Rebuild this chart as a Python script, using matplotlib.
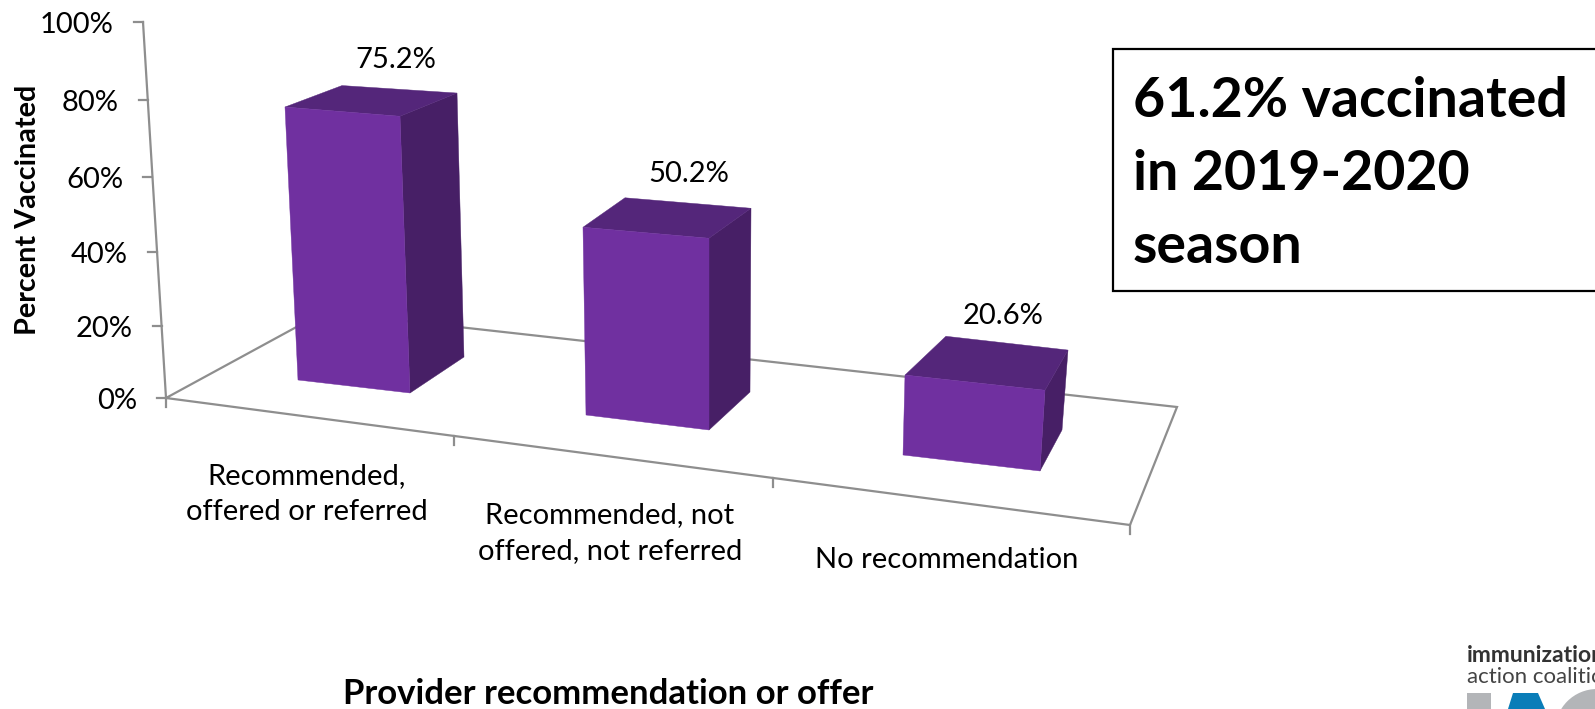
import numpy as np
import matplotlib
matplotlib.use('Agg')
import matplotlib.pyplot as plt
from matplotlib.patches import Polygon, Rectangle, Circle

# chart data
categories = ['Recommended,\noffered or referred', 'Recommended, not\noffered, not referred', 'No recommendation']
values = [75.2, 50.2, 20.6]
value_labels = ['75.2%', '50.2%', '20.6%']
y_ticks = [0, 20, 40, 60, 80, 100]
y_tick_labels = ['0%', '20%', '40%', '60%', '80%', '100%']

FRONT = '#7030A0'
TOP = '#54267A'
SIDE = '#471F66'
GREY = '#8E8E8E'
FONT = 'Lato'
LABEL_SIZE = 21
LINE = 1.6

W, H = 1595, 709

# floor of each bar in pixels: front-left, front-right, back-right, back-left
bar_floors = [
    [(298, 380), (410, 393), (464, 357), (352, 345)],
    [(586, 415), (709, 430), (750, 392), (630, 378)],
    [(903, 455), (1040, 471), (1062, 430), (942, 416)],
]
# pixels per percent at the same corners (x, y), the chart is in perspective
bar_rates = [
    [(0.173, 3.63), (0.133, 3.68), (0.093, 3.51), (0.133, 3.45)],
    [(0.060, 3.74), (0.000, 3.82), (-0.020, 3.66), (0.100, 3.59)],
    [(-0.097, 3.88), (-0.243, 3.92), (-0.291, 3.88), (-0.190, 3.87)],
]
label_nudge = [(-4, -29), (1, -29), (-4, -27)]

origin = np.array([166, 398])
axis_top = np.array([143, 22])
floor_right = np.array([1130, 525])
floor_back_right = np.array([1177, 407])
floor_back_left = np.array([324, 312])


def persp(t, e):
    # position along an edge that recedes from the viewer
    return t / (1 + e * (1 - t))


def along(a, b, t, e=0.0):
    return a + (b - a) * persp(t, e)


fig = plt.figure(figsize=(W / 100, H / 100), dpi=100)
ax = fig.add_axes([0, 0, 1, 1])
ax.set_xlim(0, W)
ax.set_ylim(H, 0)
ax.axis('off')

# floor
floor = np.array([floor_back_left, origin, floor_right, floor_back_right])
ax.add_patch(Polygon(floor, closed=True, fill=False, ec=GREY, lw=LINE, zorder=1))

# value axis
ax.plot(*zip(origin, axis_top), color=GREY, lw=LINE, zorder=1)
for v, lab in zip(y_ticks, y_tick_labels):
    p = along(origin, axis_top, v / 100, 0.05)
    ax.plot([p[0] - 9, p[0]], [p[1], p[1]], color=GREY, lw=LINE, zorder=1)
    ax.text(p[0] - 29, p[1] + 3, lab, ha='right', va='center', fontsize=LABEL_SIZE,
            family=FONT, color='black')

# category ticks
for i in range(len(categories) + 1):
    p = along(origin, floor_right, i / len(categories), 0.174)
    ax.plot([p[0], p[0]], [p[1], p[1] + 9], color=GREY, lw=LINE, zorder=1)

# bars
for i, v in enumerate(values):
    base = np.array(bar_floors[i], dtype=float)
    top = base - np.array(bar_rates[i]) * v
    ax.add_patch(Polygon([top[1], top[2], base[2], base[1]], fc=SIDE, ec=SIDE, lw=0.3, zorder=3))
    ax.add_patch(Polygon(top, fc=TOP, ec=TOP, lw=0.3, zorder=3))
    ax.add_patch(Polygon([top[0], top[1], base[1], base[0]], fc=FRONT, ec=FRONT, lw=0.3, zorder=4))
    mid = (top[2] + top[3]) / 2
    ax.text(mid[0] + label_nudge[i][0], mid[1] + label_nudge[i][1], value_labels[i], ha='center',
            va='center', fontsize=LABEL_SIZE, family=FONT, color='black', zorder=5)

# category labels
cat_pos = [(307, 494), (610, 533), (947, 560)]
for (x, y), lab in zip(cat_pos, categories):
    ax.text(x, y, lab, ha='center', va='center', fontsize=LABEL_SIZE, family=FONT,
            color='black', linespacing=1.5)

# axis titles
ax.text(28, 210, 'Percent Vaccinated', rotation=90, ha='center', va='center',
        fontsize=20.7, fontweight='bold', family=FONT, color='black')
ax.text(608, 704, 'Provider recommendation or offer', ha='center', va='baseline',
        fontsize=25, fontweight='bold', family=FONT, color='black')

# call-out box
ax.add_patch(Rectangle((1113, 49), 490, 242, fc='white', ec='black', lw=LINE, zorder=6))
ax.text(1133, 174, '61.2% vaccinated\nin 2019-2020\nseason', ha='left', va='center',
        fontsize=40, fontweight='bold', family=FONT, color='black', linespacing=1.56, zorder=7)

# logo, cut off by the edge of the picture
ax.text(1467, 655, 'immunization', ha='left', va='center', fontsize=16.5, fontweight='bold',
        family=FONT, color='#333333')
ax.text(1467, 677, 'action coalition', ha='left', va='center', fontsize=16,
        family=FONT, color='#444444')
ax.add_patch(Rectangle((1467, 693), 24, 20, fc='#B3B5B8', ec='none'))
ax.add_patch(Polygon([(1513, 693), (1538, 693), (1545, 709), (1508, 709)], fc='#0A7DB8', ec='none'))
ax.add_patch(Circle((1597, 731), 42, fc='#B3B5B8', ec='none'))

fig.savefig('out.png', dpi=100)
